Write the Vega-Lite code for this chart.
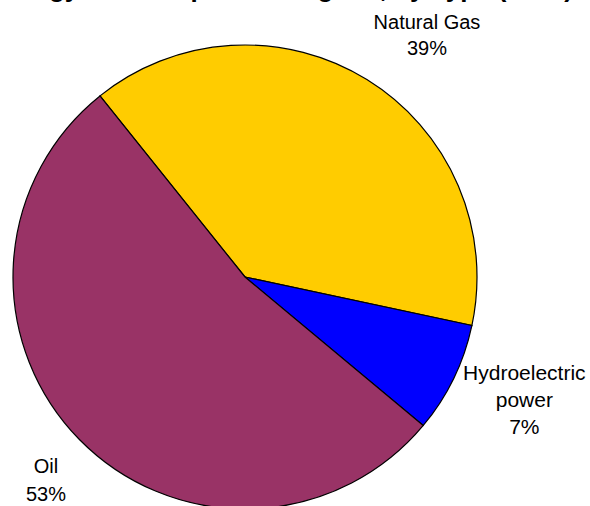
{
  "$schema": "https://vega.github.io/schema/vega-lite/v6.json",
  "width": 464,
  "height": 458,
  "autosize": {"type": "none"},
  "padding": {"left": 13, "top": 48, "right": 113, "bottom": 0},
  "background": "white",
  "title": {
    "text": "Energy Consumption in Nigeria, by Type (2000)",
    "font": "Liberation Sans",
    "fontSize": 26,
    "fontWeight": "bold",
    "color": "black",
    "anchor": "middle",
    "baseline": "alphabetic",
    "offset": 0,
    "dy": 10,
    "dx": 37
  },
  "config": {"view": {"stroke": null}},
  "data": {
    "values": [
      {"type": "Natural Gas", "share": 39.1, "order": 1, "label": "Natural Gas\n39%"},
      {"type": "Hydroelectric power", "share": 7.7, "order": 2, "label": "Hydroelectric\npower\n7%"},
      {"type": "Oil", "share": 53.2, "order": 3, "label": "Oil\n53%"}
    ]
  },
  "encoding": {
    "theta": {
      "field": "share",
      "type": "quantitative",
      "stack": true,
      "scale": {"range": [5.608, 11.891]}
    },
    "order": {"field": "order", "type": "quantitative"}
  },
  "layer": [
    {
      "mark": {"type": "arc", "radius": 232, "stroke": "black", "strokeWidth": 1.2},
      "encoding": {
        "color": {
          "field": "type",
          "type": "nominal",
          "scale": {
            "domain": ["Natural Gas", "Hydroelectric power", "Oil"],
            "range": ["#FFCC00", "#0000FF", "#993366"]
          },
          "legend": null
        }
      }
    },
    {
      "mark": {"type": "text", "radius": 255, "align": "center", "baseline": "middle", "font": "Liberation Sans", "fontSize": 20, "lineHeight": 26, "lineBreak": "\n", "color": "black", "dx": 48, "dy": -37},
      "encoding": {"text": {"condition": {"test": "datum.type === 'Natural Gas'", "field": "label"}, "value": ""}}
    },
    {
      "mark": {"type": "text", "radius": 255, "align": "center", "baseline": "middle", "font": "Liberation Sans", "fontSize": 21, "lineHeight": 27, "lineBreak": "\n", "color": "black", "dx": 50, "dy": -15},
      "encoding": {"text": {"condition": {"test": "datum.type === 'Hydroelectric power'", "field": "label"}, "value": ""}}
    },
    {
      "mark": {"type": "text", "radius": 255, "align": "center", "baseline": "middle", "font": "Liberation Sans", "fontSize": 20, "lineHeight": 28, "lineBreak": "\n", "color": "black", "dx": -17, "dy": 11},
      "encoding": {"text": {"condition": {"test": "datum.type === 'Oil'", "field": "label"}, "value": ""}}
    }
  ]
}
